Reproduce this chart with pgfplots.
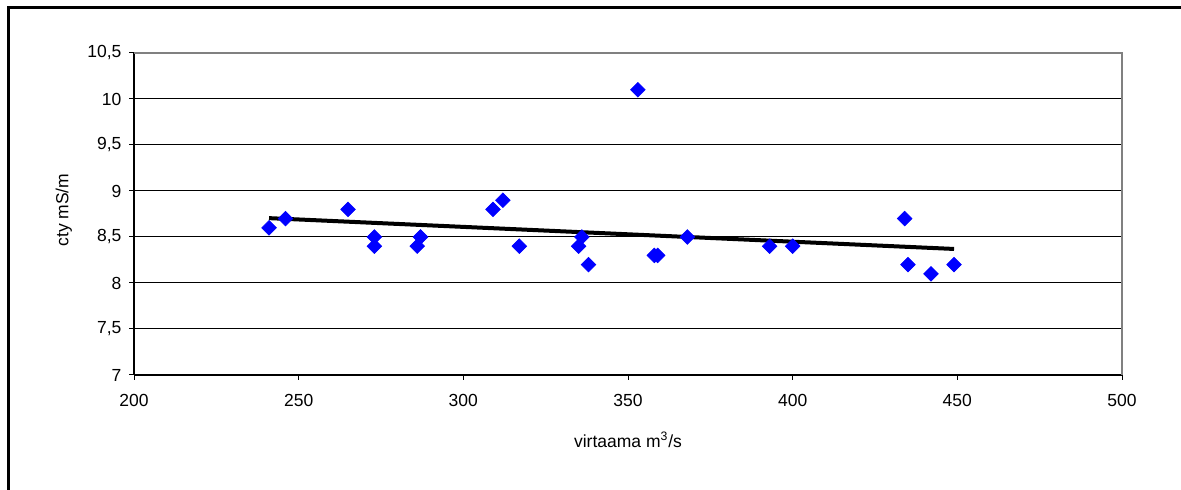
\documentclass[border=0pt]{standalone}
\usepackage{pgfplots}
\pgfplotsset{compat=1.18}
\usepackage{fontspec}
\setmainfont{Liberation Sans}
\definecolor{markblue}{RGB}{0,0,255}
\begin{document}
\begin{tikzpicture}
\path[use as bounding box] (0pt,0pt) rectangle (708.6pt,294pt);
\draw[line width=1.8pt] (4.8pt,0pt) -- (4.8pt,289.2pt) -- (708.6pt,289.2pt);
\begin{axis}[
  at={(80.4pt,69pt)}, anchor=south west,
  scale only axis, width=592.8pt, height=193.2pt,
  xmin=200, xmax=500, ymin=7, ymax=10.5,
  xtick={200,250,...,500}, ytick={7,7.5,...,10.5},
  axis x line*=bottom, axis y line*=left,
  axis line style={-, black, line width=0.9pt},
  ymajorgrids, grid style={black, line width=0.6pt},
  tick align=outside, major tick length=3pt,
  tick style={black, line width=0.6pt},
  /pgf/number format/use comma,
  /pgf/number format/1000 sep={},
  /pgf/number format/assume math mode=true,
  tick label style={font=\fontsize{10.5}{12}\selectfont},
  xticklabel style={yshift=-5pt},
  yticklabel style={xshift=-1pt},
  label style={font=\fontsize{10.5}{12}\selectfont},
  xlabel={virtaama m\textsuperscript{3}/s},
  ylabel={cty mS/m},
  xlabel style={at={(axis description cs:0.5,0)}, anchor=center, yshift=-39pt},
  ylabel style={at={(axis description cs:-0.0709,0.512)}, anchor=center},
  clip=false,
]
\draw[gray, line width=1.2pt] (rel axis cs:0,1) -- (rel axis cs:1,1) -- (rel axis cs:1,0);
\addplot[only marks, mark=square*, mark size=3.1pt, color=markblue,
  mark options={rotate=45, fill=markblue, draw=markblue}] coordinates {
  (241,8.6) (246,8.7) (265,8.8) (273,8.5) (273,8.4) (286,8.4) (287,8.5)
  (309,8.8) (312,8.9) (317,8.4) (335,8.4) (336,8.5) (338,8.2) (353,10.1)
  (358,8.3) (359,8.3) (368,8.5) (393,8.4) (400,8.4) (434,8.7) (435,8.2)
  (442,8.1) (449,8.2)
};
\addplot[black, line width=2.4pt] coordinates {(241,8.705) (449,8.37)};
\end{axis}
\end{tikzpicture}
\end{document}
